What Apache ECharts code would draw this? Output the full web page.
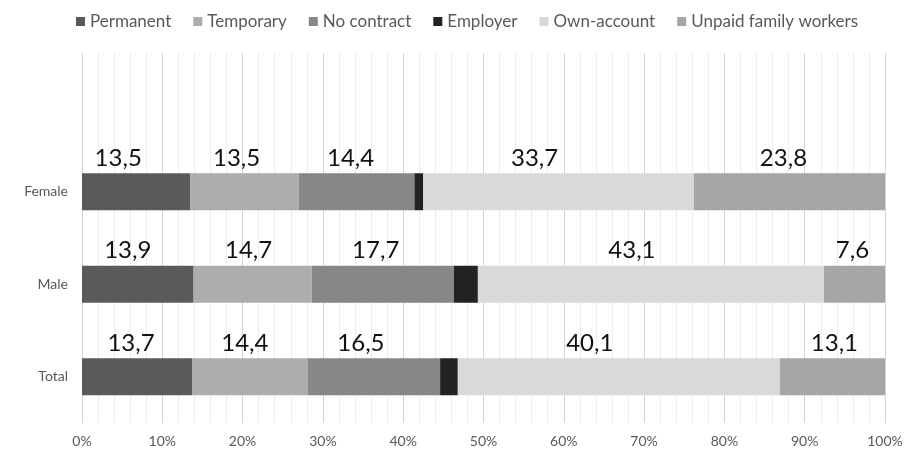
<!DOCTYPE html>
<html>
<head>
<meta charset="utf-8">
<script src="https://cdn.jsdelivr.net/npm/echarts@6/dist/echarts.min.js"></script>
<style>html,body{margin:0;padding:0;background:#fff}#c{width:909px;height:453px}</style>
</head>
<body>
<div id="c"></div>
<script>
const categories = ['Total', 'Male', 'Female', ''];
const seriesNames = ['Permanent', 'Temporary', 'No contract', 'Employer', 'Own-account', 'Unpaid family workers'];
const permanent = [13.7, 13.9, 13.5, null];
const temporary = [14.4, 14.7, 13.5, null];
const noContract = [16.5, 17.7, 14.4, null];
const employer = [2.2, 3.0, 1.1, null];
const ownAccount = [40.1, 43.1, 33.7, null];
const unpaid = [13.1, 7.6, 23.8, null];
const xTicks = ['0%','10%','20%','30%','40%','50%','60%','70%','80%','90%','100%'];

// label horizontal nudges (px), style only
const labelShift = [[-6, -10, -18], [-5, -4, -8], [-13, -7, -6], [0, 0, 0], [-29, -19, -24], [2, -2, -6]];

const values = [permanent, temporary, noContract, employer, ownAccount, unpaid];
const colors = ['#5a5a5a', '#adadad', '#878787', '#222222', '#d9d9d9', '#a6a6a6'];
const showLabel = [true, true, true, false, true, true];

const chart = echarts.init(document.getElementById('c'));
chart.setOption({
  animation: false,
  textStyle: { fontFamily: 'Lato' },
  legend: {
    top: 8, left: 71, itemWidth: 9, itemHeight: 9, itemGap: 22,
    icon: 'rect',
    textStyle: { color: '#595959', fontSize: 17, fontFamily: 'Lato' },
    data: seriesNames
  },
  grid: { left: 82, right: 24, top: 53, bottom: 30, containLabel: false },
  xAxis: {
    type: 'value', min: 0, max: 100, interval: 10,
    axisLine: { show: false }, axisTick: { show: false },
    axisLabel: { color: '#595959', fontSize: 14, margin: 11, formatter: v => xTicks[Math.round(v / 10)] },
    splitLine: { show: true, lineStyle: { color: '#d4d4d4', width: 1 } },
    minorTick: { show: false, splitNumber: 5 },
    minorSplitLine: { show: true, lineStyle: { color: '#ececec', width: 1 } }
  },
  yAxis: {
    type: 'category', data: categories,
    axisLine: { show: false }, axisTick: { show: false },
    axisLabel: { color: '#595959', fontSize: 14, margin: 14 }
  },
  series: seriesNames.map((n, i) => ({
    name: n, type: 'bar', stack: 'all', barWidth: '40%',
    data: values[i].map((v, j) => v == null ? v : {
      value: v,
      label: { offset: [labelShift[i][j] || 0, 0] }
    }),
    itemStyle: { color: colors[i] },
    label: {
      show: showLabel[i], position: 'top', distance: 3,
      color: '#111', fontSize: 24, fontFamily: 'Lato',
      formatter: p => String(p.value).replace('.', ',')
    }
  }))
});
</script>
</body>
</html>
